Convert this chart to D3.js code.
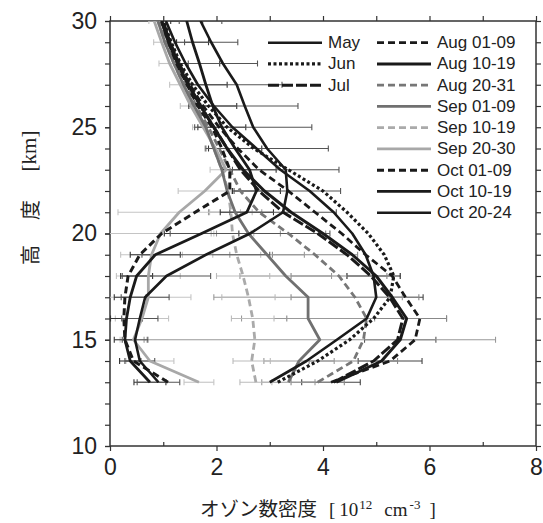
<!DOCTYPE html>
<html>
<head>
<meta charset="utf-8">
<script src="https://cdn.jsdelivr.net/npm/d3@7"></script>
<style>
  body { margin: 0; background: #fff; }
  text { font-family: "Liberation Sans", Arial, sans-serif; fill: #222; }
</style>
</head>
<body>
<svg></svg>
<script>
// altitude levels (km)
const altitudes = [13, 14, 15, 16, 17, 18, 19, 20, 21, 22, 23, 24, 25, 26, 27, 28, 29, 30]

// ozone number density, 10^12 cm-3, one value per altitude
const may  = [3.00, 3.69, 4.26, 4.82, 5.00, 4.95, 4.80, 4.55, 4.20, 3.75, 3.20, 2.75, 2.30, 1.95, 1.65, 1.42, 1.22, 1.05]
const jun  = [3.15, 3.90, 4.50, 4.95, 5.26, 5.33, 5.15, 4.85, 4.45, 4.00, 3.35, 2.70, 2.20, 1.85, 1.55, 1.32, 1.15, 1.00]
const jul  = [4.20, 4.95, 5.40, 5.50, 5.25, 4.90, 4.45, 3.90, 3.25, 2.80, 2.45, 2.20, 1.95, 1.70, 1.48, 1.28, 1.12, 1.00]
const aug1 = [4.15, 5.26, 5.73, 5.82, 5.55, 5.30, 4.80, 4.35, 3.85, 3.35, 2.80, 2.40, 2.05, 1.75, 1.50, 1.30, 1.13, 0.98]
const aug2 = [4.25, 5.10, 5.45, 5.57, 5.30, 5.00, 4.55, 4.00, 3.40, 2.90, 2.50, 2.20, 1.95, 1.70, 1.47, 1.27, 1.10, 0.97]
const aug3 = [3.90, 4.57, 4.76, 4.82, 4.60, 4.30, 3.85, 3.35, 2.80, 2.45, 2.25, 2.05, 1.85, 1.62, 1.42, 1.22, 1.07, 0.95]
const sep1 = [3.35, 3.55, 3.94, 3.72, 3.72, 3.30, 2.95, 2.60, 2.35, 2.20, 2.10, 1.95, 1.80, 1.58, 1.38, 1.20, 1.03, 0.90]
const sep2 = [2.74, 2.66, 2.72, 2.68, 2.60, 2.50, 2.38, 2.30, 2.27, 2.22, 2.10, 1.95, 1.80, 1.58, 1.38, 1.20, 1.03, 0.90]
const sep3 = [1.67, 0.75, 0.44, 0.60, 0.72, 0.72, 0.78, 0.95, 1.30, 1.78, 2.18, 1.98, 1.75, 1.52, 1.32, 1.12, 0.97, 0.83]
const oct1 = [1.09, 0.44, 0.28, 0.26, 0.28, 0.34, 0.56, 0.97, 1.60, 2.25, 2.25, 2.10, 1.92, 1.65, 1.45, 1.25, 1.10, 0.97]
const oct2 = [0.75, 0.38, 0.28, 0.31, 0.38, 0.50, 0.85, 1.72, 2.57, 2.75, 2.62, 2.35, 2.10, 1.93, 1.80, 1.68, 1.55, 1.44]
const oct3 = [0.91, 0.56, 0.47, 0.56, 0.66, 1.06, 1.80, 2.63, 3.25, 3.33, 3.30, 2.95, 2.69, 2.53, 2.38, 2.12, 1.90, 1.70]

// half widths of the error bars (null = no bar)
const errMay  = [null, null, null, null, null, 0.50, null, null, null, null, null, null, null, null, null, null, null, null]
const errAug1 = [0.55, 0.60, null, null, 0.33, null, null, null, null, null, null, null, null, null, null, null, null, null]
const errAug2 = [null, null, 0.67, 0.75, null, null, null, null, null, null, null, null, null, null, null, null, null, null]
const errAug3 = [0.50, 0.83, null, 1.50, 1.20, 0.90, 0.80, 0.70, null, null, null, null, null, null, null, null, null, null]
const errSep1 = [0.50, 0.66, 3.30, 1.25, 1.77, 0.86, 0.70, 0.60, 0.50, null, null, null, null, null, null, null, null, null]
const errSep2 = [0.30, 0.35, null, 0.40, 0.50, 0.50, 0.45, 0.40, 0.40, null, null, null, null, null, null, null, null, null]
const errSep3 = [0.28, 0.45, 0.25, 0.50, 0.80, 0.60, 0.58, 1.00, 1.15, 0.50, 0.30, 0.20, 0.20, 0.20, 0.20, 0.20, 0.15, 0.10]
const errOct2 = [0.30, 0.20, 0.20, 0.30, 0.30, 0.30, 0.47, 0.70, 0.50, 0.45, 0.50, 0.50, 0.45, 0.45, 0.40, 0.38, 0.30, 0.30]
const errOct3 = [0.40, 0.28, 0.24, 0.34, 0.45, 0.83, 1.20, 1.50, 1.00, 1.00, 1.00, 1.15, 1.10, 1.00, 0.85, 0.65, 0.50, 0.40]

const series = [
    {name: "May",       values: may,  err: errMay,  color: "#1a1a1a", bar: "#222", width: 2.6, dash: null},
    {name: "Jun",       values: jun,  err: null,    color: "#1a1a1a", bar: "#222", width: 3.2, dash: "3,2.5"},
    {name: "Jul",       values: jul,  err: null,    color: "#1a1a1a", bar: "#222", width: 3,   dash: "11,3"},
    {name: "Aug 01-09", values: aug1, err: errAug1, color: "#1a1a1a", bar: "#444", width: 2.8, dash: "7,4"},
    {name: "Aug 10-19", values: aug2, err: errAug2, color: "#1a1a1a", bar: "#555", width: 3,   dash: null},
    {name: "Aug 20-31", values: aug3, err: errAug3, color: "#777",    bar: "#888", width: 2.8, dash: "7,4"},
    {name: "Sep 01-09", values: sep1, err: errSep1, color: "#707070", bar: "#999", width: 2.8, dash: null},
    {name: "Sep 10-19", values: sep2, err: errSep2, color: "#aaa",    bar: "#bbb", width: 2.8, dash: "7,4"},
    {name: "Sep 20-30", values: sep3, err: errSep3, color: "#a8a8a8", bar: "#c4c4c4", width: 2.8, dash: null},
    {name: "Oct 01-09", values: oct1, err: null,    color: "#1a1a1a", bar: "#222", width: 3,   dash: "7,4"},
    {name: "Oct 10-19", values: oct2, err: errOct2, color: "#1a1a1a", bar: "#333", width: 2.8, dash: null},
    {name: "Oct 20-24", values: oct3, err: errOct3, color: "#1a1a1a", bar: "#555", width: 2.6, dash: null}
]

let width = 543,
    height = 523,
    plotLeft = 110, plotRight = 536, plotTop = 21, plotBottom = 446

const x = d3.scaleLinear().domain([0, 8]).range([plotLeft, plotRight])
const y = d3.scaleLinear().domain([10, 30]).range([plotBottom, plotTop])

let svg = d3.select("svg")
            .attr("width", width)
            .attr("height", height)

svg.append("clipPath").attr("id", "plot")
    .append("rect")
    .attr("x", plotLeft).attr("y", plotTop)
    .attr("width", plotRight - plotLeft).attr("height", plotBottom - plotTop)

const styleAxis = (g, fontSize) => {
    g.select(".domain").remove()
    g.selectAll(".tick line").attr("stroke", "#333").attr("stroke-width", 1.2)
    g.selectAll("text")
        .style("font-family", "'Liberation Sans', Arial, sans-serif")
        .style("font-size", fontSize + "px")
        .attr("fill", "#222")
}

// axes: labelled majors, unlabelled minors
svg.append("g").attr("transform", `translate(0,${plotBottom})`)
    .call(d3.axisBottom(x).tickValues([0, 2, 4, 6, 8]).tickSize(5).tickPadding(8).tickFormat(d3.format("d")))
    .call(g => styleAxis(g, 23))
svg.append("g").attr("transform", `translate(0,${plotBottom})`)
    .call(d3.axisBottom(x).tickValues([1, 3, 5, 7]).tickSize(-4).tickFormat(""))
    .call(g => styleAxis(g, 0))
svg.append("g").attr("transform", `translate(0,${plotTop})`)
    .call(d3.axisTop(x).ticks(8).tickSize(5).tickFormat(""))
    .call(g => styleAxis(g, 0))
svg.append("g").attr("transform", `translate(${plotLeft},0)`)
    .call(d3.axisLeft(y).tickValues([10, 15, 20, 25, 30]).tickSize(5).tickPadding(8).tickFormat(d3.format("d")))
    .call(g => styleAxis(g, 23))
svg.append("g").attr("transform", `translate(${plotLeft},0)`)
    .call(d3.axisLeft(y).ticks(20).tickSize(5).tickFormat(""))
    .call(g => styleAxis(g, 0))
svg.append("g").attr("transform", `translate(${plotRight},0)`)
    .call(d3.axisRight(y).ticks(20).tickSize(5).tickFormat(""))
    .call(g => styleAxis(g, 0))

svg.append("rect")
    .attr("x", plotLeft).attr("y", plotTop)
    .attr("width", plotRight - plotLeft).attr("height", plotBottom - plotTop)
    .attr("fill", "none").attr("stroke", "#333").attr("stroke-width", 1.5)

const plot = svg.append("g").attr("clip-path", "url(#plot)")

// error bars behind the profiles
const bars = plot.append("g")
series.filter(s => s.err).forEach(s => {
    s.err.forEach((e, i) => {
        if (e == null) return
        const v = s.values[i], yy = y(altitudes[i])
        const g = bars.append("g").attr("stroke", s.bar).attr("stroke-width", 1.1)
        g.append("line").attr("x1", x(v - e)).attr("x2", x(v + e)).attr("y1", yy).attr("y2", yy)
        g.append("line").attr("x1", x(v - e)).attr("x2", x(v - e)).attr("y1", yy - 3).attr("y2", yy + 3)
        g.append("line").attr("x1", x(v + e)).attr("x2", x(v + e)).attr("y1", yy - 3).attr("y2", yy + 3)
    })
})

const line = d3.line()
    .x(d => x(d[0]))
    .y(d => y(d[1]))

const drawOrder = ["Sep 20-30", "Sep 10-19", "Sep 01-09", "Aug 20-31", "May", "Jun", "Jul",
                   "Aug 01-09", "Aug 10-19", "Oct 01-09", "Oct 10-19", "Oct 20-24"]
drawOrder.forEach(name => {
    const s = series.find(d => d.name === name)
    plot.append("path")
        .datum(s.values.map((v, i) => [v, altitudes[i]]))
        .attr("d", line)
        .attr("fill", "none")
        .attr("stroke", s.color)
        .attr("stroke-width", s.width)
        .attr("stroke-dasharray", s.dash)
        .attr("stroke-linejoin", "round")
})

// legend, two columns
const legend = svg.append("g")
series.forEach((s, i) => {
    const col = i < 3 ? 0 : 1
    const row = i < 3 ? i : i - 3
    const lx = col === 0 ? 268 : 377
    const ly = 42.7 + row * 21.25
    legend.append("line")
        .attr("x1", lx).attr("x2", lx + 54)
        .attr("y1", ly).attr("y2", ly)
        .attr("stroke", s.color)
        .attr("stroke-width", s.width)
        .attr("stroke-dasharray", s.dash)
    legend.append("text")
        .attr("x", lx + 60).attr("y", ly)
        .attr("dominant-baseline", "central")
        .style("font-size", "17px")
        .text(s.name)
})

// axis titles
const serif = "'Liberation Serif', serif"
const xt = svg.append("text").attr("x", 200).attr("y", 516)
xt.append("tspan").style("font-family", "'Noto Sans CJK JP'").style("font-size", "19.5px").text("オゾン数密度")
xt.append("tspan").style("font-family", serif).style("font-size", "19px").attr("dx", 12).text("[")
xt.append("tspan").style("font-family", serif).style("font-size", "19px").attr("dx", 4).text("10")
xt.append("tspan").style("font-family", serif).style("font-size", "13px").attr("dy", -7).attr("dx", 1).text("12")
xt.append("tspan").style("font-family", serif).style("font-size", "19px").attr("dy", 7).attr("dx", 12).text("cm")
xt.append("tspan").style("font-family", serif).style("font-size", "13px").attr("dy", -7).attr("dx", 2).text("-3")
xt.append("tspan").style("font-family", serif).style("font-size", "19px").attr("dy", 7).attr("dx", 9).text("]")

const yTitle = [["高", 255, "'Noto Sans CJK JP'", 20], ["度", 210, "'Noto Sans CJK JP'", 20], ["[km]", 151, serif, 21]]
yTitle.forEach(t => {
    svg.append("text")
        .attr("transform", `translate(29,${t[1]}) rotate(-90)`)
        .attr("text-anchor", "middle")
        .attr("dominant-baseline", "central")
        .style("font-family", t[2])
        .style("font-size", t[3] + "px")
        .text(t[0])
})
</script>
</body>
</html>
